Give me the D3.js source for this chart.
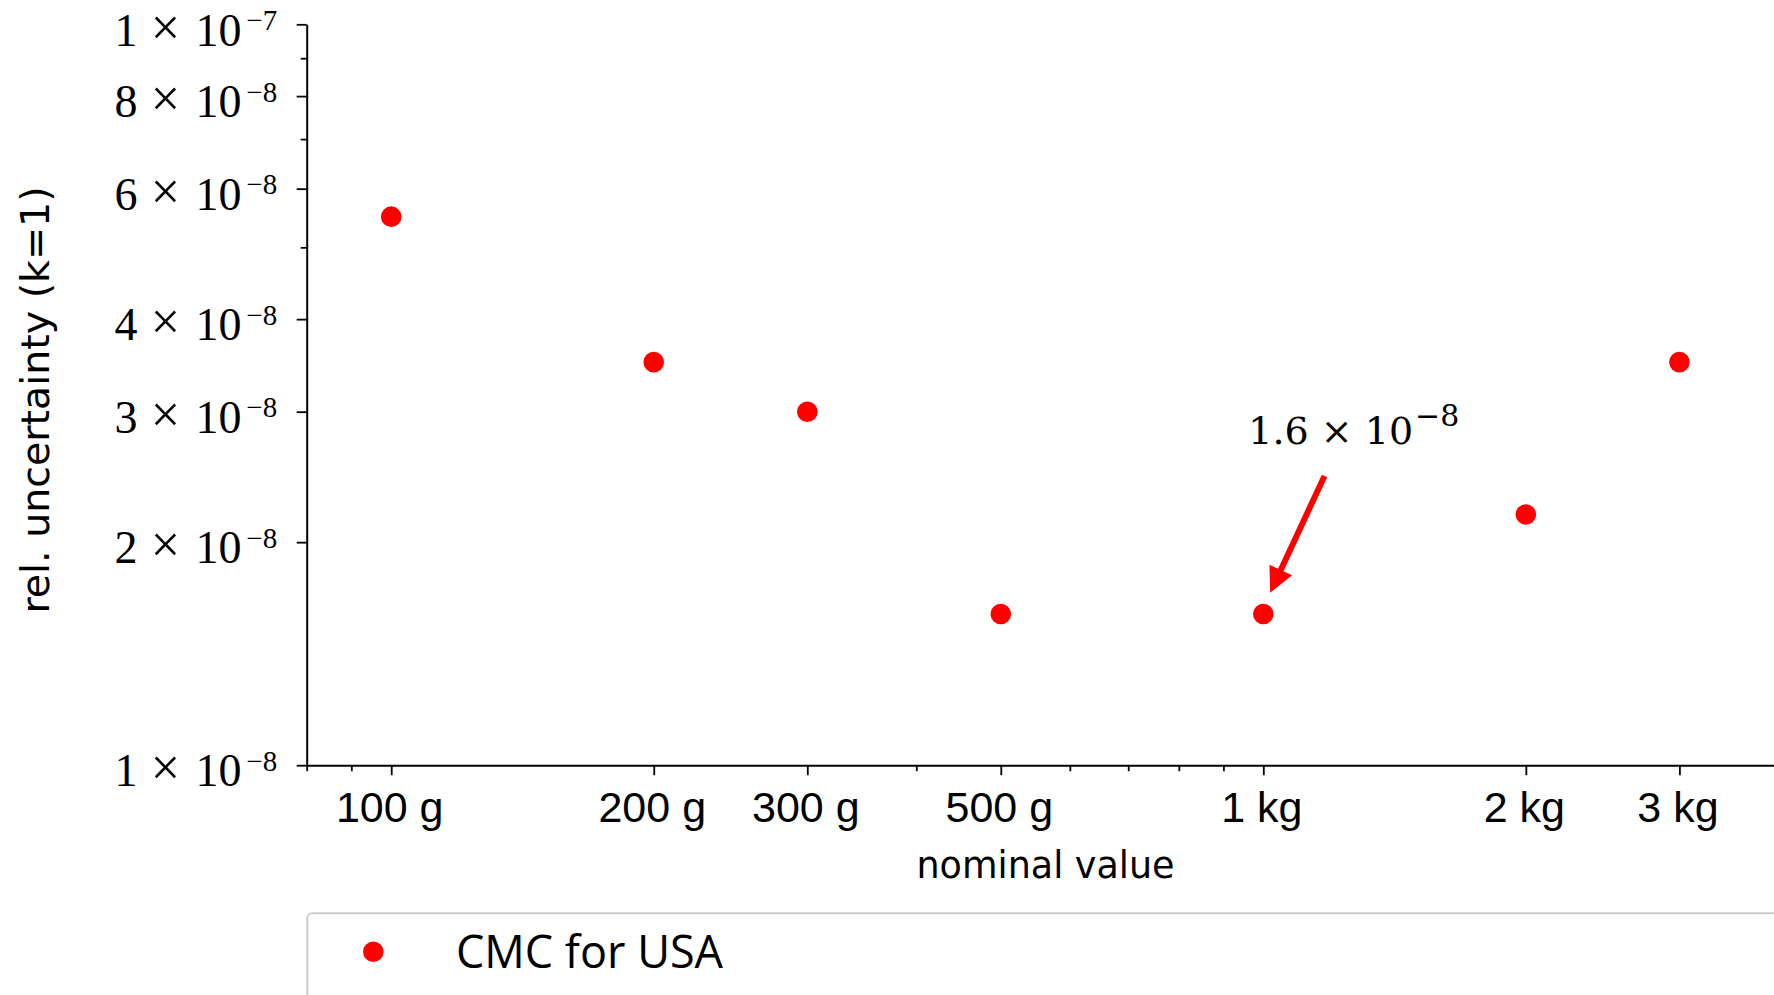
<!DOCTYPE html>
<html>
<head>
<meta charset="utf-8">
<script src="https://cdn.jsdelivr.net/npm/d3@7"></script>
<style>
  html, body { margin: 0; padding: 0; background: #fff; overflow: hidden; }
  svg { display: block; }
</style>
</head>
<body>
<svg id="chart" width="1774" height="995"></svg>
<script>
// Nominal masses (grams) and the CMC relative standard uncertainty (k=1)
const massesG = [100, 200, 300, 500, 1000, 2000, 3000];
const massLabels = ["100 g", "200 g", "300 g", "500 g", "1 kg", "2 kg", "3 kg"];
const cmcUSA = [5.5e-8, 3.5e-8, 3.0e-8, 1.6e-8, 1.6e-8, 2.18e-8, 3.5e-8];

// Axis ticks
const xMinorTicks = [80, 90, 400, 600, 700, 800, 900, 4000];
const yMajorTicks = [1e-8, 2e-8, 3e-8, 4e-8, 6e-8, 8e-8, 1e-7];
const yMinorTicks = [5e-8, 7e-8, 9e-8];

// Highlighted value
const annotatedIndex = 4;
const annotatedText = { mantissa: "1.6", exponent: "\u22128" };

const seriesName = "CMC for USA";
const xTitle = "nominal value";
const yTitle = "rel. uncertainty (k=1)";

const RED = "#ff0000";
const svg = d3.select("#chart");

const plotLeft = 306.7, plotTop = 24.3, plotBottom = 765.2;
const pxPerDecadeX = 872.1;

const x = d3.scaleLog()
  .domain([80, 4000])
  .range([plotLeft, plotLeft + pxPerDecadeX * Math.log10(4000 / 80)]);
const y = d3.scaleLog()
  .domain([1e-8, 1e-7])
  .range([plotBottom, plotTop]);

const serifFont = "'Liberation Serif', 'Times New Roman', serif";
const sansFont = "'Liberation Sans', Arial, sans-serif";
const labelFont = "'DejaVu Sans', sans-serif";

// ---- x axis ----
svg.append("g").attr("transform", `translate(0,${plotBottom})`)
  .call(d3.axisBottom(x).tickValues(xMinorTicks).tickSize(6).tickSizeOuter(0).tickFormat(""))
  .call(g => g.select(".domain").remove())
  .call(g => g.selectAll(".tick line").attr("stroke", "#000").attr("stroke-width", 1.8));

const xMajor = svg.append("g").attr("transform", `translate(0,${plotBottom})`)
  .call(d3.axisBottom(x).tickValues(massesG).tickSize(10).tickSizeOuter(0)
    .tickFormat((d, i) => massLabels[i]));
xMajor.select(".domain").attr("stroke", "#000").attr("stroke-width", 2);
xMajor.selectAll(".tick line").attr("stroke", "#000").attr("stroke-width", 1.8);
xMajor.selectAll(".tick text")
  .attr("y", 0).attr("dy", null)
  .attr("transform", "translate(-2,56.5)")
  .attr("fill", "#000")
  .style("font-family", sansFont)
  .style("font-size", "43px");

// ---- y axis ----
svg.append("g").attr("transform", `translate(${plotLeft},0)`)
  .call(d3.axisLeft(y).tickValues(yMinorTicks).tickSize(6).tickSizeOuter(0).tickFormat(""))
  .call(g => g.select(".domain").remove())
  .call(g => g.selectAll(".tick line").attr("stroke", "#000").attr("stroke-width", 1.8));

const yMajor = svg.append("g").attr("transform", `translate(${plotLeft},0)`)
  .call(d3.axisLeft(y).tickValues(yMajorTicks).tickSize(10).tickSizeOuter(0).tickFormat(""));
yMajor.select(".domain").attr("stroke", "#000").attr("stroke-width", 2);
yMajor.selectAll(".tick line").attr("stroke", "#000").attr("stroke-width", 1.8);
yMajor.selectAll(".tick text").remove();

// scientific notation labels: m × 10^e, each piece placed by its centre
yMajor.selectAll(".tick").each(function (d) {
  const exp = Math.floor(Math.log10(d) + 1e-9);
  const mant = Math.round(d / Math.pow(10, exp));
  const g = d3.select(this).append("g")
    .attr("transform", "translate(0,20.7)")
    .attr("fill", "#000")
    .style("font-family", serifFont)
    .attr("text-anchor", "middle");
  g.append("text").attr("x", -180.8).style("font-size", "46px").text(mant);
  g.append("text").attr("x", -141.3).attr("y", -1).style("font-size", "52px").text("\u00d7");
  g.append("text").attr("x", -88.3).style("font-size", "46px").text("10");
  g.append("text").attr("x", -45).attr("y", -15.7).style("font-size", "29px")
    .text(`\u2212${Math.abs(exp)}`);
});

// ---- axis titles ----
svg.append("text")
  .attr("x", (x.range()[0] + x.range()[1]) / 2 - 2)
  .attr("y", 877.7)
  .attr("text-anchor", "middle")
  .style("font-family", labelFont)
  .style("font-size", "36.5px")
  .text(xTitle);

svg.append("text")
  .attr("transform", `translate(49.3,400) rotate(-90)`)
  .attr("text-anchor", "middle")
  .style("font-family", labelFont)
  .style("font-size", "39.5px")
  .text(yTitle);

// ---- points ----
svg.append("g").selectAll("circle")
  .data(massesG.map((m, i) => ({ m, v: cmcUSA[i] })))
  .join("circle")
  .attr("cx", d => x(d.m))
  .attr("cy", d => y(d.v))
  .attr("r", 10.3)
  .attr("fill", RED);

// ---- annotation with arrow ----
const ax = x(massesG[annotatedIndex]), ay = y(cmcUSA[annotatedIndex]);
const tail = [ax + 61.2, ay - 138];
const tip = [ax + 6.9, ay - 21.3];
(function drawArrow() {
  const dx = tip[0] - tail[0], dy = tip[1] - tail[1];
  const len = Math.hypot(dx, dy);
  const ux = dx / len, uy = dy / len;
  const px = -uy, py = ux;
  const headLen = 25, headHalf = 12.5, shaftHalf = 3;
  const bx = tip[0] - ux * headLen, by = tip[1] - uy * headLen;
  const pts = [
    [tail[0] + px * shaftHalf, tail[1] + py * shaftHalf],
    [bx + px * shaftHalf, by + py * shaftHalf],
    [bx + px * headHalf, by + py * headHalf],
    tip,
    [bx - px * headHalf, by - py * headHalf],
    [bx - px * shaftHalf, by - py * shaftHalf],
    [tail[0] - px * shaftHalf, tail[1] - py * shaftHalf]
  ];
  svg.append("path")
    .attr("d", d3.line()(pts) + "Z")
    .attr("fill", RED);
})();

const ann = svg.append("text")
  .attr("x", ax - 15)
  .attr("y", ay - 169.7)
  .attr("fill", "#000")
  .style("font-family", "'DejaVu Serif', serif")
  .style("font-size", "38px");
ann.append("tspan").text(`${annotatedText.mantissa} \u00d7 10`);
ann.append("tspan").attr("dy", -18).attr("dx", 2).style("font-size", "30px").text(annotatedText.exponent);

// ---- legend ----
const legend = svg.append("g");
legend.append("rect")
  .attr("x", 307.3).attr("y", 913.3)
  .attr("width", 1480).attr("height", 160)
  .attr("rx", 5).attr("ry", 5)
  .attr("fill", "#fff")
  .attr("stroke", "#cccccc")
  .attr("stroke-width", 2);
legend.append("circle")
  .attr("cx", 373.3).attr("cy", 951.7).attr("r", 10.3).attr("fill", RED);
legend.append("text")
  .attr("x", 456).attr("y", 967.7)
  .attr("fill", "#000")
  .style("font-family", "'Open Sans', 'Noto Sans', sans-serif")
  .style("font-size", "45px")
  .text(seriesName);
</script>
</body>
</html>
